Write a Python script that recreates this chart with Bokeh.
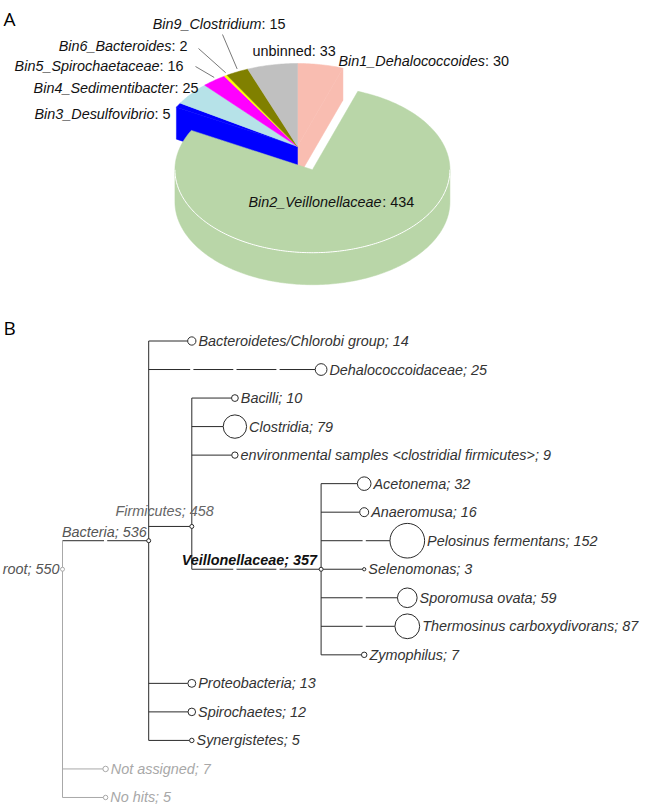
import numpy as np
from bokeh.plotting import figure
from bokeh.models import Range1d
from bokeh.core.properties import value
from bokeh.embed import file_html
from bokeh.resources import INLINE

# ---------------- data: panel A (bins) ----------------
bin_names = ["Bin1_Dehalococcoides", "Bin2_Veillonellaceae", "Bin3_Desulfovibrio",
             "Bin4_Sedimentibacter", "Bin5_Spirochaetaceae", "Bin6_Bacteroides",
             "Bin9_Clostridium", "unbinned"]
bin_counts = [30, 434, 5, 25, 16, 2, 15, 33]

# ---------------- data: panel B (taxonomy tree) ----------------
taxa = ["root", "Bacteria", "Bacteroidetes/Chlorobi group", "Dehalococcoidaceae", "Firmicutes",
        "Bacilli", "Clostridia", "environmental samples <clostridial firmicutes>", "Veillonellaceae",
        "Acetonema", "Anaeromusa", "Pelosinus fermentans", "Selenomonas", "Sporomusa ovata",
        "Thermosinus carboxydivorans", "Zymophilus", "Proteobacteria", "Spirochaetes",
        "Synergistetes", "Not assigned", "No hits"]
taxa_counts = [550, 536, 14, 25, 458, 10, 79, 9, 357, 32, 16, 152, 3, 59, 87, 7, 13, 12, 5, 7, 5]
taxa_parent = [-1, 0, 1, 1, 1, 4, 4, 4, 4, 8, 8, 8, 8, 8, 8, 8, 1, 1, 1, 0, 0]
taxa_rank = [0, 2, 3, 6, 3, 4, 4, 4, 6, 7, 7, 8, 7, 8, 8, 7, 3, 3, 3, 1, 1]
unassigned_taxa = ["Not assigned", "No hits"]

# ---------------- styles / layout ----------------
bin_colors = ["#f9bdb1", "#b9d6a8", "#0000ff", "#b6e2e8", "#ff00ff", "#ffff00", "#808000", "#c0c0c0"]
explode = [0, 0.3, 0, 0, 0, 0, 0, 0]
italic_name = [True, True, True, True, True, True, True, False]
# label anchor: (x, y, align, leader start or None)
pie_label_pos = [(338, 60, "left", None), (248, 201, "left", None), (170, 113, "right", None),
                 (198, 87, "right", None), (183, 65, "right", (195, 66)),
                 (187, 45, "right", (198, 48)), (285, 23, "right", (222, 34)),
                 (252, 50, "left", None)]

FONT = "Liberation Sans"
FS = 14.4
AW = {' ': 278, ':': 278, ';': 278, '_': 556, '/': 278, ',': 278, '<': 584, '>': 584,
      'a': 556, 'b': 556, 'c': 500, 'd': 556, 'e': 556, 'f': 278, 'g': 556, 'h': 556, 'i': 222,
      'j': 222, 'k': 500, 'l': 222, 'm': 833, 'n': 556, 'o': 556, 'p': 556, 'q': 556, 'r': 333,
      's': 500, 't': 278, 'u': 556, 'v': 500, 'w': 722, 'x': 500, 'y': 500, 'z': 500,
      'A': 667, 'B': 667, 'C': 722, 'D': 722, 'E': 667, 'F': 611, 'G': 778, 'H': 722, 'I': 278,
      'J': 500, 'K': 667, 'L': 556, 'M': 833, 'N': 722, 'O': 778, 'P': 667, 'Q': 778, 'R': 722,
      'S': 667, 'T': 611, 'U': 722, 'V': 667, 'W': 944, 'X': 667, 'Y': 667, 'Z': 611}


def tw(s, fs=FS):
    return sum(AW.get(ch, 556) for ch in s) / 1000.0 * fs


p = figure(width=650, height=808, x_range=Range1d(0, 650), y_range=Range1d(808, 0),
           output_backend="svg", toolbar_location=None, min_border=0,
           x_axis_location=None, y_axis_location=None, outline_line_color=None,
           background_fill_color="white", border_fill_color="white")
p.grid.visible = False

# ================= Panel A: 3D exploded pie =================
A_R, B_R, CX, CY, DEPTH = 137.5, 83.0, 297.0, 146.0, 32.0
nb = len(bin_counts)
tot = float(sum(bin_counts))
spans = np.array([c / tot * 360.0 for c in bin_counts])
st = np.concatenate([[0.0], np.cumsum(spans)[:-1]])
en = st + spans
mid = (st + en) / 2.0
cxs = [CX + explode[i] * A_R * np.sin(np.radians(mid[i])) for i in range(nb)]
cys = [CY - explode[i] * B_R * np.cos(np.radians(mid[i])) for i in range(nb)]


def arc(cx, cy, a0, a1):
    n = max(2, int(abs(a1 - a0)) + 2)
    t = np.radians(np.linspace(a0, a1, n))
    return cx + A_R * np.sin(t), cy - B_R * np.cos(t)


def rim(cx, cy, a):
    t = np.radians(a)
    return cx + A_R * np.sin(t), cy - B_R * np.cos(t)


def walls(i):
    xs, ys = [], []
    cx, cy = cxs[i], cys[i]
    prev_i, next_i = (i - 1) % nb, (i + 1) % nb
    # radial walls facing the viewer, only where the neighbour is pulled apart
    for a, sgn, nbr in ((st[i], -1, prev_i), (en[i], 1, next_i)):
        apart = (explode[i] != explode[nbr])
        if apart and sgn * np.sin(np.radians(a)) > 1e-6:
            rx, ry = rim(cx, cy, a)
            xs.append([cx, rx, rx, cx])
            ys.append([cy, ry, ry + DEPTH, cy + DEPTH])
    lo, hi = max(st[i], 90.0), min(en[i], 270.0)
    if lo < hi:
        ax, ay = arc(cx, cy, lo, hi)
        xs.append(list(ax) + list(ax[::-1]))
        ys.append(list(ay) + list((ay + DEPTH)[::-1]))
    return xs, ys


def top(i):
    ax, ay = arc(cxs[i], cys[i], st[i], en[i])
    return [cxs[i]] + list(ax), [cys[i]] + list(ay)


groups = [[i for i in range(nb) if explode[i] == 0],
          [i for i in range(nb) if explode[i] != 0]]
for grp in groups:
    wx, wy, wc = [], [], []
    for i in grp:
        xs, ys = walls(i)
        wx += xs
        wy += ys
        wc += [bin_colors[i]] * len(xs)
    if wx:
        p.patches(wx, wy, fill_color=wc, line_color=wc, line_width=0.5)
    tx, ty, tc = [], [], []
    for i in grp:
        x_, y_ = top(i)
        tx.append(x_)
        ty.append(y_)
        tc.append(bin_colors[i])
    p.patches(tx, ty, fill_color=tc, line_color=tc, line_width=0.5)
    for i in grp:
        lo, hi = max(st[i], 90.0), min(en[i], 270.0)
        if lo < hi and explode[i] != 0:
            ax, ay = arc(cxs[i], cys[i], lo, hi)
            p.line(ax, ay, line_color="white", line_width=1)

# pie labels
for i, name in enumerate(bin_names):
    x0, y0, align, lead = pie_label_pos[i]
    suffix = ": %d" % bin_counts[i]
    full_w = tw(name + suffix)
    xs0 = x0 if align == "left" else x0 - full_w
    p.text(x=[xs0], y=[y0], text=[name], text_font=value(FONT), text_font_size=value("%spx" % FS),
           text_font_style="italic" if italic_name[i] else "normal",
           text_align="left", text_baseline="middle", text_color="#111111")
    p.text(x=[xs0 + tw(name)], y=[y0], text=[suffix], text_font=value(FONT),
           text_font_size=value("%spx" % FS), text_align="left", text_baseline="middle",
           text_color="#111111")
    if lead is not None:
        rx, ry = rim(cxs[i], cys[i], mid[i])
        p.line([lead[0], rx], [lead[1], ry - 3], line_color="#555555", line_width=0.8)

# ================= Panel B: taxonomy tree =================
X0, STEP, ROW0, ROWSTEP = 62.0, 43.1, 340.5, 28.53
n = len(taxa)
children = [[] for _ in range(n)]
for i, par in enumerate(taxa_parent):
    if par >= 0:
        children[par].append(i)
order = []


def dfs(i):
    if not children[i]:
        order.append(i)
    for c in children[i]:
        dfs(c)


dfs(0)
ny = np.zeros(n)
for row, i in enumerate(order):
    ny[i] = ROW0 + row * ROWSTEP


def leaf_desc(i):
    if not children[i]:
        return [i]
    out = []
    for c in children[i]:
        out += leaf_desc(c)
    return out


for i in range(n):
    if children[i]:
        lv = [ny[j] for j in leaf_desc(i)]
        ny[i] = (min(lv) + max(lv)) / 2.0
nx = X0 + STEP * np.array(taxa_rank, dtype=float)
nr = np.array([0.85 * c ** 0.6 if not children[i] else 2.0 for i, c in enumerate(taxa_counts)])

DARK, GREY = "#2a2a2a", "#a8a8a8"
ecol = [GREY if t in unassigned_taxa else DARK for t in taxa]

lx, ly, lc = [], [], []
GAP = 1.6
for i in range(n):
    par = taxa_parent[i]
    if par < 0:
        continue
    xa = nx[par]
    xb = nx[i] - (nr[i] if not children[i] else 0)
    cuts = [X0 + STEP * lvl for lvl in range(taxa_rank[par] + 1, taxa_rank[i])]
    pts = [xa]
    for c in cuts:
        pts += [c - GAP, c + GAP]
    pts.append(xb)
    for k in range(0, len(pts), 2):
        lx.append([pts[k], pts[k + 1]])
        ly.append([ny[i], ny[i]])
        lc.append(ecol[i])
for i in range(n):
    if children[i]:
        cy_ = [ny[c] for c in children[i]]
        lx.append([nx[i], nx[i]])
        ly.append([min(cy_), max(cy_)])
        lc.append(GREY if taxa_parent[i] < 0 else DARK)
p.multi_line(lx, ly, line_color=lc, line_width=1)

p.scatter(x=nx, y=ny, size=2 * nr, marker="circle", fill_color="white",
          line_color=[GREY if (t in unassigned_taxa or taxa_parent[i] < 0) else DARK for i, t in enumerate(taxa)],
          line_width=1)

# leaf labels
leaf_ids = [i for i in range(n) if not children[i]]
p.text(x=[nx[i] + nr[i] + 2.5 for i in leaf_ids], y=[ny[i] for i in leaf_ids],
       text=["%s; %d" % (taxa[i], taxa_counts[i]) for i in leaf_ids],
       text_font=value(FONT), text_font_size=value("%spx" % FS), text_font_style="italic",
       text_align="left", text_baseline="middle",
       text_color=[GREY if taxa[i] in unassigned_taxa else "#333333" for i in leaf_ids])

# internal node labels: (dx, dy, font size, style, color)
inner_style = {"root": (-3.0, 0.0, FS, "italic", "#555555"),
               "Bacteria": (-2.0, -9.0, FS, "italic", "#555555"),
               "Firmicutes": (22.0, -15.0, FS, "italic", "#666666"),
               "Veillonellaceae": (-4.0, -9.0, FS, "bold italic", "#111111")}
for i in range(n):
    if children[i]:
        dx, dy, fs, sty, col = inner_style[taxa[i]]
        p.text(x=[nx[i] + dx], y=[ny[i] + dy], text=["%s; %d" % (taxa[i], taxa_counts[i])],
               text_font=value(FONT), text_font_size=value("%spx" % fs), text_font_style=sty,
               text_align="right", text_baseline="middle", text_color=col)

# panel letters
p.text(x=[3, 3], y=[18, 327], text=["A", "B"], text_font=value("Open Sans"),
       text_font_size=value("19px"), text_align="left", text_baseline="alphabetic", text_color="#000000")

open("out.html", "w").write(file_html(p, INLINE))
